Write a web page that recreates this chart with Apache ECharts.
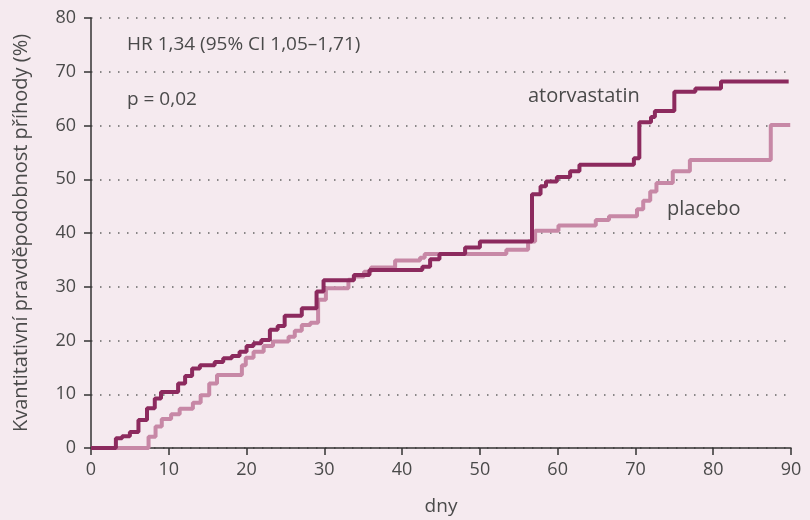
<!DOCTYPE html>
<html>
<head>
<meta charset="utf-8">
<script src="https://cdn.jsdelivr.net/npm/echarts@6/dist/echarts.min.js"></script>
<style>
html,body{margin:0;padding:0;background:#f5eaef;}
#chart{width:810px;height:520px;}
</style>
</head>
<body>
<div id="chart"></div>
<script>
// Data (days, cumulative probability %)
const atorvaDays = [0,3.2,4.0,5.0,6.1,7.2,8.2,9.0,11.2,12.1,13.0,14.0,15.9,17.0,18.1,19.1,20.0,20.9,21.9,23.0,24.0,24.9,27.1,29.0,29.9,33.8,35.8,42.6,43.6,44.8,48.1,50.0,56.7,57.8,58.5,59.9,61.6,62.8,69.8,70.5,72.0,72.5,75.0,77.7,81.0,89.7];
const atorvaPct  = [0,1.8,2.2,3.0,5.2,7.4,9.2,10.4,12.0,13.4,14.8,15.4,16.0,16.7,17.1,17.9,19.0,19.5,20.1,22.0,22.7,24.6,26.0,29.1,31.2,32.2,33.1,33.7,35.1,36.1,37.3,38.4,47.2,48.7,49.6,50.4,51.5,52.7,53.9,60.6,61.6,62.7,66.3,66.9,68.2,68.2];
const placeboDays = [0,7.4,8.3,9.1,10.3,11.4,13.1,14.1,15.2,16.2,19.4,19.9,20.9,22.2,23.4,25.4,26.2,27.1,28.2,29.2,30.2,33.1,33.8,35.1,36.0,39.1,42.3,42.9,53.4,56.2,57.1,60.1,64.9,66.6,70.2,71.0,71.9,72.7,74.8,77.0,87.4,89.9];
const placeboPct  = [0,2.1,4.0,5.4,6.3,7.3,8.4,9.8,12.0,13.6,15.4,16.8,17.9,19.0,19.8,20.7,21.8,22.9,23.3,27.6,29.7,31.3,31.9,32.8,33.6,34.9,35.4,36.1,36.9,38.4,40.4,41.4,42.4,43.1,44.4,46.0,47.7,49.3,51.5,53.6,60.1,60.1];
const xTicks = [0,10,20,30,40,50,60,70,80,90];
const yTicks = [0,10,20,30,40,50,60,70,80];
const seriesNames = ['atorvastatin','placebo'];
const annotations = ['HR 1,34 (95% CI 1,05–1,71)','p = 0,02'];
const xTitle = 'dny';
const yTitle = 'Kvantitativní pravděpodobnost příhody (%)';

const pair = (xs, ys) => xs.map((x, i) => [x, ys[i]]);
const FONT = '"Open Sans", "Noto Sans", sans-serif';
const TXT = '#4a4a4a';

const chart = echarts.init(document.getElementById('chart'), null, {renderer:'canvas'});
chart.setOption({
  backgroundColor: '#f5eaef',
  animation: false,
  grid: {left: 91, right: 19, top: 18, bottom: 72, containLabel: false, outerBoundsMode: 'none'},
  xAxis: {
    type: 'value', min: xTicks[0], max: xTicks[xTicks.length-1], interval: 10,
    name: xTitle, nameLocation: 'middle', nameGap: 49,
    nameTextStyle: {fontFamily: FONT, fontSize: 19, color: TXT},
    axisLine: {show: true, lineStyle: {color: '#333', width: 1.5}},
    axisTick: {show: true, length: 7, lineStyle: {color: '#333', width: 1.5}},
    axisLabel: {fontFamily: FONT, fontSize: 18, color: TXT, margin: 13},
    splitLine: {show: false}
  },
  yAxis: {
    type: 'value', min: yTicks[0], max: yTicks[yTicks.length-1], interval: 10,
    name: yTitle, nameLocation: 'middle', nameGap: 60,
    nameTextStyle: {fontFamily: FONT, fontSize: 20, color: TXT},
    axisLine: {show: true, lineStyle: {color: '#333', width: 1.5}},
    axisTick: {show: true, length: 7, lineStyle: {color: '#333', width: 1.5}},
    axisLabel: {fontFamily: FONT, fontSize: 18, color: TXT, margin: 15},
    splitLine: {show: true, lineStyle: {color: '#666', width: 1.5, type: [1.5, 7.5]}}
  },
  series: [
    {
      name: seriesNames[1], type: 'line', step: 'end', symbol: 'none',
      data: pair(placeboDays, placeboPct),
      lineStyle: {color: '#c788a6', width: 4}, z: 2
    },
    {
      name: seriesNames[0], type: 'line', step: 'end', symbol: 'none',
      data: pair(atorvaDays, atorvaPct),
      lineStyle: {color: '#8c2a5e', width: 4}, z: 3
    }
  ],
  graphic: [
    {type: 'text', left: 127, top: 35, style: {text: annotations[0], font: '19px ' + FONT, fill: TXT}},
    {type: 'text', left: 127, top: 90, style: {text: annotations[1], font: '19px ' + FONT, fill: TXT}},
    {type: 'text', left: 528, top: 86, style: {text: seriesNames[0], font: '20px ' + FONT, fill: TXT}},
    {type: 'text', left: 667, top: 199, style: {text: seriesNames[1], font: '20px ' + FONT, fill: TXT}}
  ]
});
</script>
</body>
</html>
